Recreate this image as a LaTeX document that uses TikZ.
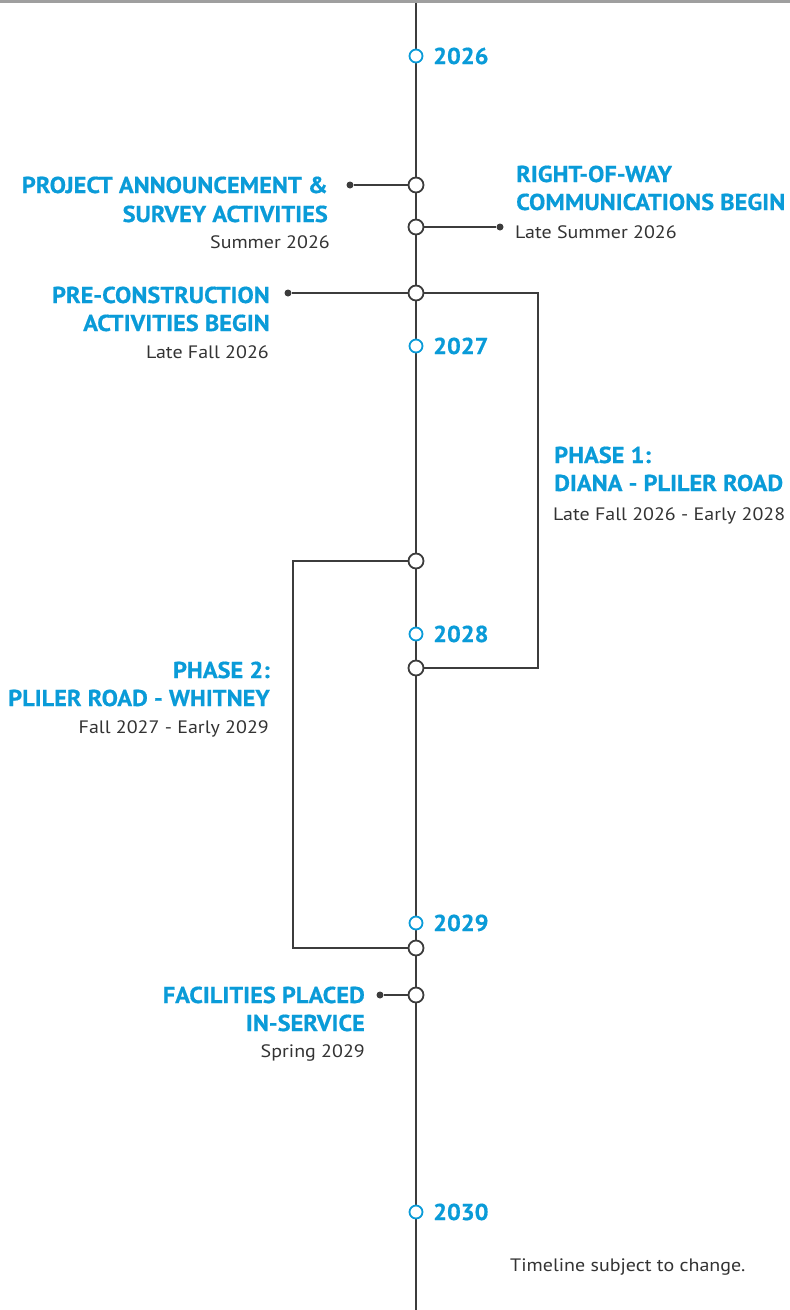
\documentclass[tikz,border=0pt]{standalone}
\usepackage{fontspec}
\setmainfont{PT Sans}
\newfontfamily\headfont[FakeStretch=1.06,FakeBold=0.6]{PT Sans}
\newfontfamily\subfont[FakeStretch=1.11]{PT Sans}
\definecolor{tlblue}{HTML}{0A9BD8}
\definecolor{tlgray}{HTML}{3C3C3C}
\definecolor{txtgray}{HTML}{333333}
\begin{document}
\begin{tikzpicture}[x=1pt,y=-1pt,
  line/.style={draw=tlgray,line width=2pt},
  event/.style={circle,draw=tlgray,fill=white,line width=1.8pt,minimum size=15pt,inner sep=0pt},
  yearmark/.style={circle,draw=tlblue,fill=white,line width=1.8pt,minimum size=13pt,inner sep=0pt},
  enddot/.style={circle,fill=tlgray,minimum size=7pt,inner sep=0pt},
  year/.style={font=\headfont\bfseries\fontsize{23}{23}\selectfont,text=tlblue,inner sep=0pt,anchor=base west},
  headR/.style={font=\headfont\bfseries\fontsize{23}{23}\selectfont,text=tlblue,inner sep=0pt,anchor=base east},
  headL/.style={font=\headfont\bfseries\fontsize{23}{23}\selectfont,text=tlblue,inner sep=0pt,anchor=base west},
  subR/.style={font=\subfont\fontsize{18}{18}\selectfont,text=txtgray,inner sep=0pt,anchor=base east},
  subL/.style={font=\subfont\fontsize{18}{18}\selectfont,text=txtgray,inner sep=0pt,anchor=base west}]
\useasboundingbox (0,0) rectangle (790,1310);
\fill[gray!75] (0,0) rectangle (790,3);
% main line
\coordinate (top) at (416,3);
\coordinate (bottom) at (416,1310);
\draw[line] (top) -- (bottom);
% phase brackets
\coordinate (p1a) at (538,293);
\coordinate (p1b) at (538,668);
\coordinate (p2a) at (293,561);
\coordinate (p2b) at (293,948);
\draw[line] (416,293) -- (p1a) -- (p1b) -- (416,668);
\draw[line] (416,561) -- (p2a) -- (p2b) -- (416,948);
% event connectors
\node[enddot] (d1) at (350,185) {};
\node[enddot] (d2) at (500,227) {};
\node[enddot] (d3) at (288,293) {};
\node[enddot] (d4) at (380,995) {};
\draw[line] (d1) -- (416,185);
\draw[line] (d2) -- (416,227);
\draw[line] (d3) -- (416,293);
\draw[line] (d4) -- (416,995);
% event circles
\node[event] (e1) at (416,185) {};
\node[event] (e2) at (416,227) {};
\node[event] (e3) at (416,293) {};
\node[event] (e4) at (416,561) {};
\node[event] (e5) at (416,668) {};
\node[event] (e6) at (416,948) {};
\node[event] (e7) at (416,995) {};
% year marks
\node[yearmark] (y26) at (416,56) {};
\node[yearmark] (y27) at (416,346) {};
\node[yearmark] (y28) at (416,634) {};
\node[yearmark] (y29) at (416,923) {};
\node[yearmark] (y30) at (416,1212) {};
\node[year] (t26) at (433,64) {2026};
\node[year] (t27) at (433,354) {2027};
\node[year] (t28) at (433,642) {2028};
\node[year] (t29) at (433,931) {2029};
\node[year] (t30) at (433,1220) {2030};
% texts
\node[headR] (a1) at (328,193) {PROJECT ANNOUNCEMENT \&};
\node[headR] (a2) at (328,222) {SURVEY ACTIVITIES};
\node[subR] (a3) at (330,248) {Summer 2026};
\node[headL] (b1) at (516,182) {RIGHT-OF-WAY};
\node[headL] (b2) at (516,210) {COMMUNICATIONS BEGIN};
\node[subL] (b3) at (515,238) {Late Summer 2026};
\node[headR] (c1) at (270,303) {PRE-CONSTRUCTION};
\node[headR] (c2) at (270,331) {ACTIVITIES BEGIN};
\node[subR] (c3) at (269,358) {Late Fall 2026};
\node[headL] (f1) at (554,463) {PHASE 1:};
\node[headL] (f2) at (554,491) {DIANA - PLILER ROAD};
\node[subL] (f3) at (553,520) {Late Fall 2026 - Early 2028};
\node[headR] (g1) at (270,678) {PHASE 2:};
\node[headR] (g2) at (270,706) {PLILER ROAD - WHITNEY};
\node[subR] (g3) at (269,733) {Fall 2027 - Early 2029};
\node[headR] (h1) at (365,1003) {FACILITIES PLACED};
\node[headR] (h2) at (365,1031) {IN-SERVICE};
\node[subR] (h3) at (365,1057) {Spring 2029};
\node[subL] (n1) at (510,1271) {Timeline subject to change.};
\end{tikzpicture}
\end{document}
